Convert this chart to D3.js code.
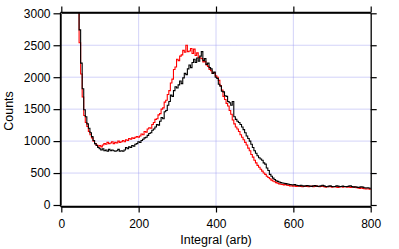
<!DOCTYPE html>
<html>
<head>
<meta charset="utf-8">
<script src="https://cdn.jsdelivr.net/npm/d3@7"></script>
<style>
  body { margin: 0; background: #fff; }
  text { font-family: "Liberation Sans", Arial, sans-serif; }
</style>
</head>
<body>
<svg width="399" height="249"></svg>
<script>
let svg = d3.select("svg");
const width = 399;
const height = 249;

// histogram bins: left edge of first bin and bin width (arb units)
const binStart = 42;
const binWidth = 4;

// counts per bin
const blackCounts = [
  3600,2740,2220,1820,1490,1380,1270,1200,1130,1070,
  1010,960,930,900,880,860,880,850,860,840,
  870,850,860,850,840,850,870,840,850,840,
  860,900,880,910,900,930,920,950,960,990,
  980,1010,1030,1050,1060,1090,1120,1130,1170,1190,
  1220,1260,1250,1310,1370,1350,1460,1480,1560,1620,
  1720,1700,1790,1850,1830,1880,1940,1900,1990,2060,
  2040,2130,2190,2150,2230,2280,2230,2300,2250,2330,
  2400,2260,2290,2200,2220,2150,2130,2060,2080,2000,
  1980,1890,1860,1780,1770,1710,1700,1620,1600,1560,
  1620,1380,1340,1310,1290,1260,1220,1180,1130,1080,
  1040,1000,950,900,850,810,770,740,720,700,
  660,640,580,540,480,450,420,400,380,370,
  360,350,345,340,335,330,325,320,318,315,
  320,310,305,300,310,300,295,300,305,300,
  295,290,300,305,295,290,295,300,310,300,
  290,285,295,300,290,285,290,300,295,285,
  290,295,290,285,290,295,300,290,280,285,
  280,275,280,285,280,270,265,270,265,260
];
const redCounts = [
  3600,2540,2050,1690,1400,1290,1230,1150,1100,1050,
  1000,960,940,920,930,910,940,960,950,980,
  960,970,990,960,980,970,1000,980,990,1010,
  990,1020,1010,1040,1030,1050,1040,1060,1070,1060,
  1080,1110,1100,1150,1140,1190,1210,1200,1260,1290,
  1340,1350,1410,1430,1500,1520,1610,1640,1730,1790,
  1910,1970,2120,2160,2280,2260,2330,2350,2420,2390,
  2500,2400,2410,2450,2370,2440,2340,2380,2310,2300,
  2290,2240,2250,2190,2170,2120,2100,2060,2070,2020,
  2000,1950,1870,1800,1700,1650,1590,1550,1480,1420,
  1330,1270,1220,1190,1150,1100,1060,1020,980,940,
  890,850,790,750,700,660,620,590,560,530,
  500,480,450,430,410,390,375,365,350,340,
  330,325,320,315,320,310,305,300,300,295,
  300,290,295,300,290,285,290,295,290,285,
  290,295,285,290,300,290,285,290,295,285,
  280,290,285,290,280,285,290,280,275,285,
  290,280,285,290,280,285,275,280,285,280,
  270,265,260,270,260,255,250,255,250,245
];

const xTicks = [0, 200, 400, 600, 800];
const yTicks = [0, 500, 1000, 1500, 2000, 2500, 3000];
const gridX = [200, 400, 600];
const gridY = [500, 1000, 1500, 2000, 2500];

// scales
let xScale = d3.scaleLinear().domain([0, 800]).range([61.3, 370.7]);
let yScale = d3.scaleLinear().domain([0, 3000]).range([205, 13.3]);

const plotTop = 12.5, plotBottom = 206.5, plotLeft = 60.5, plotRight = 370.7;

// grid
svg.append("g").selectAll("line").data(gridX).join("line")
  .attr("x1", d => xScale(d)).attr("x2", d => xScale(d))
  .attr("y1", plotTop).attr("y2", plotBottom)
  .attr("stroke", "#9c9cf0").attr("stroke-width", 0.9)
  .attr("stroke-dasharray", "1,1");
svg.append("g").selectAll("line").data(gridY).join("line")
  .attr("y1", d => yScale(d)).attr("y2", d => yScale(d))
  .attr("x1", plotLeft).attr("x2", plotRight)
  .attr("stroke", "#9c9cf0").attr("stroke-width", 0.9)
  .attr("stroke-dasharray", "1,1");

// clip
svg.append("clipPath").attr("id", "plot")
  .append("rect").attr("x", plotLeft).attr("y", plotTop + 0.5)
  .attr("width", plotRight - plotLeft).attr("height", plotBottom - plotTop);

function steps(counts) {
  let pts = counts.map((c, i) => [binStart + i * binWidth, c]);
  pts.push([binStart + counts.length * binWidth, counts[counts.length - 1]]);
  return pts;
}
let line = d3.line()
  .x(d => xScale(d[0]))
  .y(d => yScale(d[1]))
  .curve(d3.curveStepAfter);

let plot = svg.append("g").attr("clip-path", "url(#plot)");
plot.append("path").datum(steps(redCounts))
  .attr("d", line).attr("fill", "none")
  .attr("stroke", "#ff0000").attr("stroke-width", 1.1);
plot.append("path").datum(steps(blackCounts))
  .attr("d", line).attr("fill", "none")
  .attr("stroke", "#000").attr("stroke-width", 1.1);

// axes
let xAxis = d3.axisBottom(xScale).tickValues(xTicks).tickSize(6).tickSizeOuter(0).tickPadding(7)
  .tickFormat(d3.format("d"));
let xTop = d3.axisTop(xScale).tickValues(xTicks).tickSize(6).tickSizeOuter(0).tickFormat("");
let yAxis = d3.axisLeft(yScale).tickValues(yTicks).tickSize(7).tickSizeOuter(0).tickPadding(3)
  .tickFormat(d3.format("d"));
let yRight = d3.axisRight(yScale).tickValues(yTicks).tickSize(6).tickSizeOuter(0).tickFormat("");

function style(g) {
  g.select(".domain").attr("stroke", "#000").attr("stroke-width", 1.3);
  g.selectAll(".tick line").attr("stroke", "#000").attr("stroke-width", 1.2);
  g.selectAll(".tick text").attr("font-size", 12).attr("fill", "#000")
    .attr("font-family", "Liberation Sans, Arial, sans-serif");
}

svg.append("g").attr("transform", `translate(0, ${plotBottom})`).call(xAxis).call(style);
svg.append("g").attr("transform", `translate(0, ${plotTop})`).call(xTop).call(style);
svg.append("g").attr("transform", `translate(${plotLeft}, 0)`).call(yAxis).call(style);
svg.append("g").attr("transform", `translate(${plotRight}, 0)`).call(yRight).call(style);

// frame closing lines
svg.append("line").attr("x1", plotLeft).attr("x2", plotRight).attr("y1", plotTop).attr("y2", plotTop)
  .attr("stroke", "#000").attr("stroke-width", 1.3);
svg.append("line").attr("x1", plotLeft).attr("x2", plotRight).attr("y1", plotBottom).attr("y2", plotBottom)
  .attr("stroke", "#000").attr("stroke-width", 1.3);
svg.append("line").attr("x1", plotLeft).attr("x2", plotLeft).attr("y1", plotTop).attr("y2", plotBottom)
  .attr("stroke", "#000").attr("stroke-width", 1.3);

// labels
svg.append("text").attr("x", 216).attr("y", 244)
  .attr("text-anchor", "middle").attr("font-size", 12.5)
  .text("Integral (arb)");
svg.append("text").attr("transform", "translate(13, 111) rotate(-90)")
  .attr("text-anchor", "middle").attr("font-size", 12.5)
  .text("Counts");
</script>
</body>
</html>
